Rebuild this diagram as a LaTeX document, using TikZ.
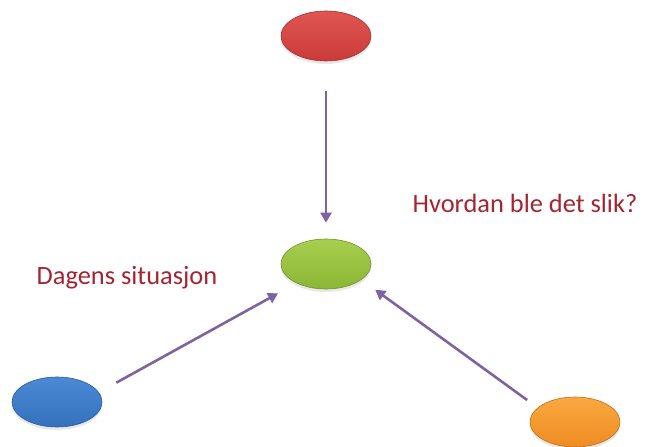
\documentclass[tikz,border=0pt]{standalone}
\usepackage{fontspec}
\setmainfont{Carlito}
\usepackage{tikz}
\usetikzlibrary{shapes.geometric, arrows.meta, positioning, shadows}
\definecolor{darkred}{HTML}{A8232F}
\definecolor{arrowpurple}{HTML}{7F63A1}
\definecolor{topred}{HTML}{E05552}
\definecolor{botred}{HTML}{C93B38}
\definecolor{topgreen}{HTML}{A8CE4E}
\definecolor{botgreen}{HTML}{8BB636}
\definecolor{topblue}{HTML}{4C8AD6}
\definecolor{botblue}{HTML}{3471BD}
\definecolor{toporange}{HTML}{FAA841}
\definecolor{botorange}{HTML}{EE8C22}

\tikzset{
  blob/.style={ellipse, minimum width=90bp, minimum height=50bp, inner sep=0pt,
    line width=0.6bp, drop shadow={shadow xshift=0bp, shadow yshift=-3bp, opacity=0.18}},
  flow/.style={-{Triangle[width=11bp,length=10bp]}, line width=2.6bp, arrowpurple},
  label/.style={font=\fontsize{26.5}{30}\selectfont, text=darkred}
}

\begin{document}
\begin{tikzpicture}[x=1bp, y=-1bp]
\useasboundingbox (0,0) rectangle (649,447);

% Ellipses
\node[blob, top color=topred, bottom color=botred, draw=botred!80!black] (red) at (326,36) {};
\node[blob, top color=topgreen, bottom color=botgreen, draw=botgreen!80!black] (green) at (326,264) {};
\node[blob, top color=topblue, bottom color=botblue, draw=botblue!80!black] (blue) at (57,402) {};
\node[blob, top color=toporange, bottom color=botorange, draw=botorange!80!black] (orange) at (575,422) {};

% Arrows
\draw[flow, shorten <=30bp, shorten >=16bp] (red.south) -- (green.north);
\draw[flow, shorten <=20bp, shorten >=21bp] (blue.13) -- (green.213);
\draw[flow, shorten <=13bp, shorten >=17bp] (orange.159) -- (green.336);

% Labels
\node[label] (why) at (525,203) {Hvordan ble det slik?};
\node[label] (today) at (127,278) {Dagens situasjon};
\end{tikzpicture}
\end{document}
